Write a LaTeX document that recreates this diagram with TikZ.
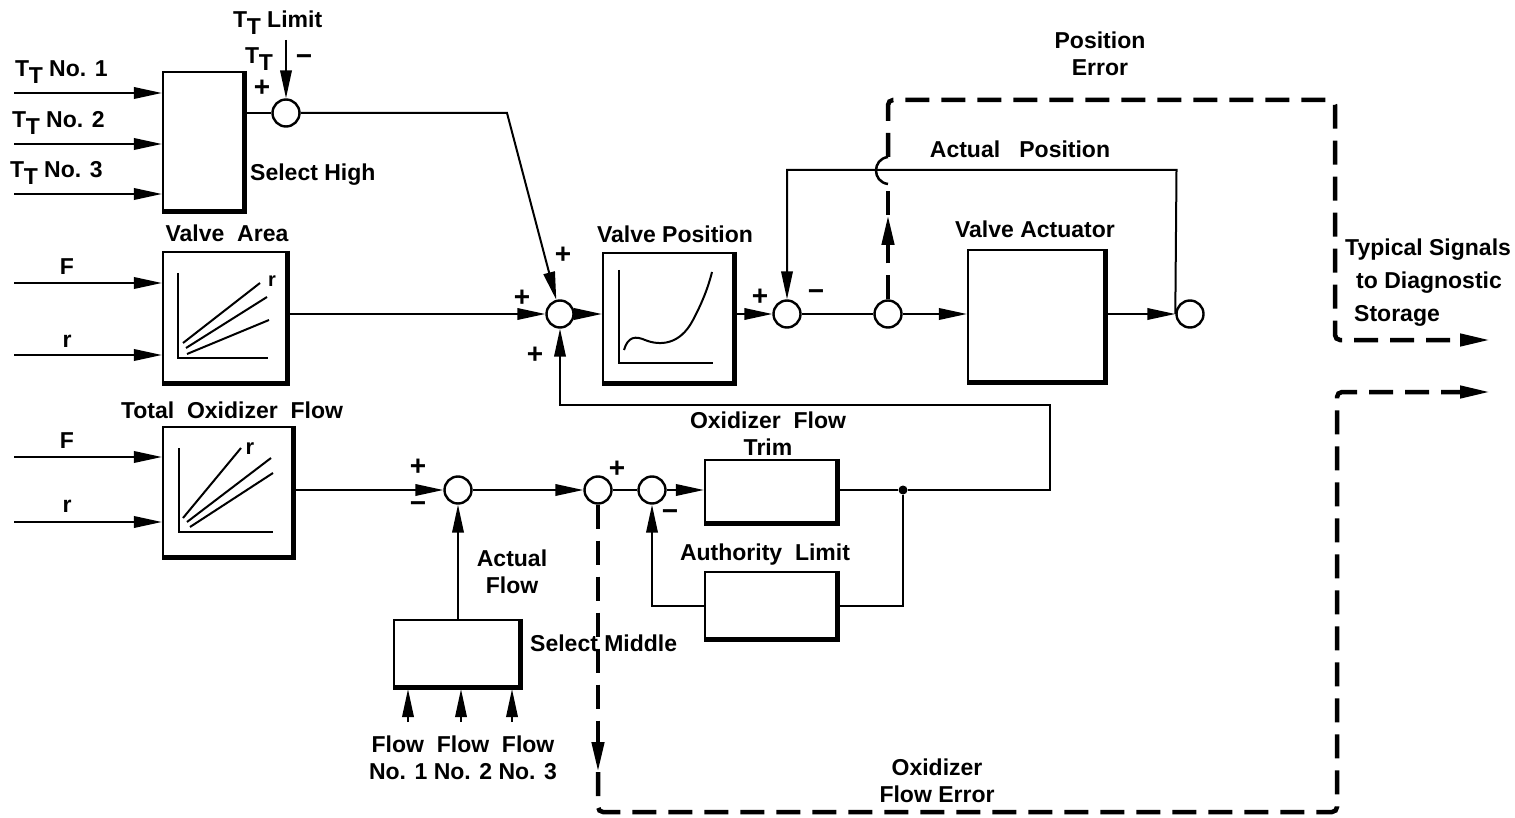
\documentclass[tikz,border=0pt]{standalone}
\usepackage{fontspec}
\setmainfont{Liberation Sans}
\usetikzlibrary{arrows.meta,calc}
\newcommand{\TT}{T\kern-0.02em\raisebox{-0.5ex}{T}}
\newcommand{\shd}[1]{\draw[line width=5pt] ([xshift=-1.5pt]#1.north east) -- ([xshift=-1.5pt,yshift=1.5pt]#1.south east) -- ([yshift=1.5pt]#1.south west);}
\tikzset{
  wire/.style={line width=2pt},
  sum/.style={circle, draw, line width=2.4pt, minimum size=27pt, inner sep=0pt},
  blk/.style={draw, line width=2.2pt, inner sep=0pt},
  dsh/.style={line width=4.5pt, dash pattern=on 24pt off 12pt},
  dtip/.style={-{Triangle[length=30pt,width=12pt]}},
  lbl/.style={inner sep=0pt},
  sgn/.style={inner sep=0pt, font=\fontsize{28}{30}\selectfont\bfseries},
  graph/.style={line width=2pt},
  >={Triangle[length=28pt,width=11.5pt]}
}
\begin{document}
\begin{tikzpicture}[x=1pt,y=-1pt,font=\fontsize{23}{27}\selectfont\bfseries]
\useasboundingbox (0,0) rectangle (1515,818);

% ---------- Select High ----------
\node[blk, minimum width=82pt, minimum height=140pt] (sh) at (204,142) {};
\shd{sh}
\coordinate (t1) at (14,93);
\coordinate (t2) at (14,144);
\coordinate (t3) at (14,194);
\draw[wire,->] (t1) -- (t1 -| sh.west);
\draw[wire,->] (t2) -- (t2 -| sh.west);
\draw[wire,->] (t3) -- (t3 -| sh.west);
\node[lbl, anchor=base west] (lt1) at (15,77) {\TT\ No. 1};
\node[lbl, anchor=base west] (lt2) at (12,128) {\TT\ No. 2};
\node[lbl, anchor=base west] (lt3) at (10,178) {\TT\ No. 3};
\node[lbl, anchor=base west] (lsh) at (250,181) {Select High};

\node[sum] (s1) at (286,113) {};
\draw[wire] (s1.west -| sh.east) -- (s1.west);
\coordinate (ttl) at (286,40);
\draw[wire,->] (ttl) -- (s1.north);
\node[lbl, anchor=base west] (lttl) at (233,28) {\TT\ Limit};
\node[lbl, anchor=base west] (ltt) at (245,64) {\TT};
\node[sgn] (m1) at (304,60) {−};
\node[sgn] (p1) at (262,88) {+};

% ---------- Valve Area ----------
\node[blk, minimum width=125pt, minimum height=132pt] (va) at (225.5,318) {};
\shd{va}
\node[lbl, anchor=base] (lva) at (227,242) {Valve\ \ Area};
\coordinate (vf) at (14,283);
\coordinate (vr) at (14,355);
\draw[wire,->] (vf) -- (vf -| va.west);
\draw[wire,->] (vr) -- (vr -| va.west);
\node[lbl, anchor=base] (lvf) at (67,275) {F};
\node[lbl, anchor=base] (lvr) at (67,347) {r};
\draw[graph] (178,273) -- (178,358) -- (268,358);
\draw[graph] (183,343) -- (260,283);
\draw[graph] (186,348) -- (267,297);
\draw[graph] (187,354) -- (269,320);
\node[lbl, font=\fontsize{20}{22}\selectfont\bfseries] (lvar) at (272,281) {r};

% ---------- Total Oxidizer Flow ----------
\node[blk, minimum width=131pt, minimum height=131pt] (tof) at (228.5,492.5) {};
\shd{tof}
\node[lbl, anchor=base] (ltof) at (232,418) {Total\ \ Oxidizer\ \ Flow};
\coordinate (tf) at (14,457);
\coordinate (tr) at (14,522);
\draw[wire,->] (tf) -- (tf -| tof.west);
\draw[wire,->] (tr) -- (tr -| tof.west);
\node[lbl, anchor=base] (ltf) at (67,448) {F};
\node[lbl, anchor=base] (ltr) at (67,512) {r};
\draw[graph] (179,448) -- (179,532) -- (273,532);
\draw[graph] (183,518) -- (241,448);
\draw[graph] (187,522) -- (271,458);
\draw[graph] (190,527) -- (273,473);
\node[lbl, font=\fontsize{22}{24}\selectfont\bfseries] (ltofr) at (250,449) {r};

% ---------- Summing junction 2 and Valve Position ----------
\node[sum] (s2) at (560,314) {};
\coordinate (k1) at (507,113);
\draw[wire,->] (s1.east) -- (k1) -- (s2);
\draw[wire,->] (s2 -| va.east) -- (s2.west);
\node[sgn] (p2) at (522,298) {+};
\node[sgn] (p3) at (563,255) {+};
\node[sgn] (p4) at (535,355) {+};

\node[blk, minimum width=132pt, minimum height=131pt] (vp) at (669,318.5) {};
\shd{vp}
\node[lbl, anchor=base] (lvp) at (675,243) {Valve Position};
\draw[wire,->] (s2.east) -- (s2 -| vp.west);
\draw[graph] (619,270) -- (619,363) -- (713,363);
\draw[graph] (624,350) .. controls (628,336) and (636,336) .. (645,340)
  .. controls (660,346) and (680,345) .. (693,320)
  .. controls (702,303) and (708,288) .. (712,272);

% ---------- Position loop ----------
\node[sum] (s3) at (787,314) {};
\node[sum] (s4) at (888,314) {};
\draw[wire,->] (s3 -| vp.east) -- (s3.west);
\draw[wire] (s3.east) -- (s4.west);
\node[sgn] (p5) at (760,297) {+};
\node[sgn] (m2) at (816,295) {−};

\node[blk, minimum width=138pt, minimum height=133pt] (act) at (1037,316.5) {};
\shd{act}
\node[lbl, anchor=base] (lact) at (1035,238) {Valve Actuator};
\draw[wire,->] (s4.east) -- (s4 -| act.west);

\node[sum] (out) at (1190,314) {};
\draw[wire,->] (out -| act.east) -- (out.west);
\coordinate (apR) at (1176.5,170);
\draw[wire,->] (out.west) -- (apR) -- (s3 |- apR) -- (s3.north);
\node[lbl, anchor=base] (lap) at (1020,158) {Actual\ \ \ Position};

% position error dashed
\coordinate (pa) at (888,215);
\coordinate (hb) at (888,184);
\coordinate (ht) at (888,157);
\coordinate (pe1) at (888,100);
\coordinate (pe2) at (1335,100);
\coordinate (pe3) at (1335,340);
\coordinate (pe4) at (1490,340);
\draw[dsh,dtip] (s4.north) -- (pa);
\draw[dsh] (pa) -- (hb);
\draw[line width=2.5pt] (hb) .. controls (872,182) and (872,159) .. (ht);
\draw[dsh,dtip,rounded corners=5pt] (ht) -- (pe1) -- (pe2) -- (pe3) -- (pe4);
\node[lbl, align=center] (lpe) at (1100,54) {Position\\Error};

\node[lbl, anchor=base west] (ts1) at (1345,256) {Typical Signals};
\node[lbl, anchor=base west] (ts2) at (1356,289) {to Diagnostic};
\node[lbl, anchor=base west] (ts3) at (1354,322) {Storage};

% ---------- Flow loop ----------
\node[sum] (sA) at (458,490) {};
\node[sum] (sB) at (598,490) {};
\node[sum] (sC) at (652,490) {};
\draw[wire,->] (sA -| tof.east) -- (sA.west);
\draw[wire,->] (sA.east) -- (sB.west);
\draw[wire] (sB.east) -- (sC.west);
\node[sgn] (p6) at (418,467) {+};
\node[sgn] (m3) at (418,507) {−};
\node[sgn] (p7) at (617,469) {+};
\node[sgn] (m4) at (670,515) {−};

\node[blk, minimum width=133pt, minimum height=64pt] (trim) at (771.5,492) {};
\shd{trim}
\node[lbl, align=center] (ltrim) at (768,434) {Oxidizer\ \ Flow\\Trim};
\draw[wire,->] (sC.east) -- (sC -| trim.west);

\node[circle, fill, inner sep=0pt, minimum size=9pt] (jn) at (903,490) {};
\coordinate (fbR) at (1050,405);
\draw[wire,->] (jn -| trim.east) -- (jn) -- (jn -| fbR) -- (fbR) -- (fbR -| s2) -- (s2.south);

\node[blk, minimum width=133pt, minimum height=68pt] (al) at (771.5,606) {};
\shd{al}
\node[lbl, anchor=base] (lal) at (765,560) {Authority\ \ Limit};
\draw[wire] (jn) |- (al.east);
\draw[wire,->] (al.west) -| (sC.south);

\node[blk, minimum width=127pt, minimum height=68pt] (sm) at (457.5,654) {};
\shd{sm}
\node[lbl, anchor=base west] (lsm) at (530,651) {Select Middle};
\draw[wire,->] (sm.north -| sA) -- (sA.south);
\node[lbl, align=center] (laf) at (512,572) {Actual\\Flow};
\coordinate (f1) at (408,722);
\coordinate (f2) at (461,722);
\coordinate (f3) at (512,722);
\draw[wire,->] (f1) -- (f1 |- sm.south);
\draw[wire,->] (f2) -- (f2 |- sm.south);
\draw[wire,->] (f3) -- (f3 |- sm.south);
\node[lbl, align=center] (lfl) at (463,758) {Flow\ \ Flow\ \ Flow\\No. 1 No. 2 No. 3};

% oxidizer flow error dashed
\coordinate (fa) at (598,772);
\coordinate (fe1) at (598,812);
\coordinate (fe2) at (1337,812);
\coordinate (fe3) at (1337,392);
\coordinate (fe4) at (1490,392);
\draw[dsh,dtip] (sB.south) -- (fa);
\draw[dsh,dtip,rounded corners=5pt] (fa) -- (fe1) -- (fe2) -- (fe3) -- (fe4);
\node[lbl, align=center] (lofe) at (937,781) {Oxidizer\\Flow Error};
\end{tikzpicture}
\end{document}
